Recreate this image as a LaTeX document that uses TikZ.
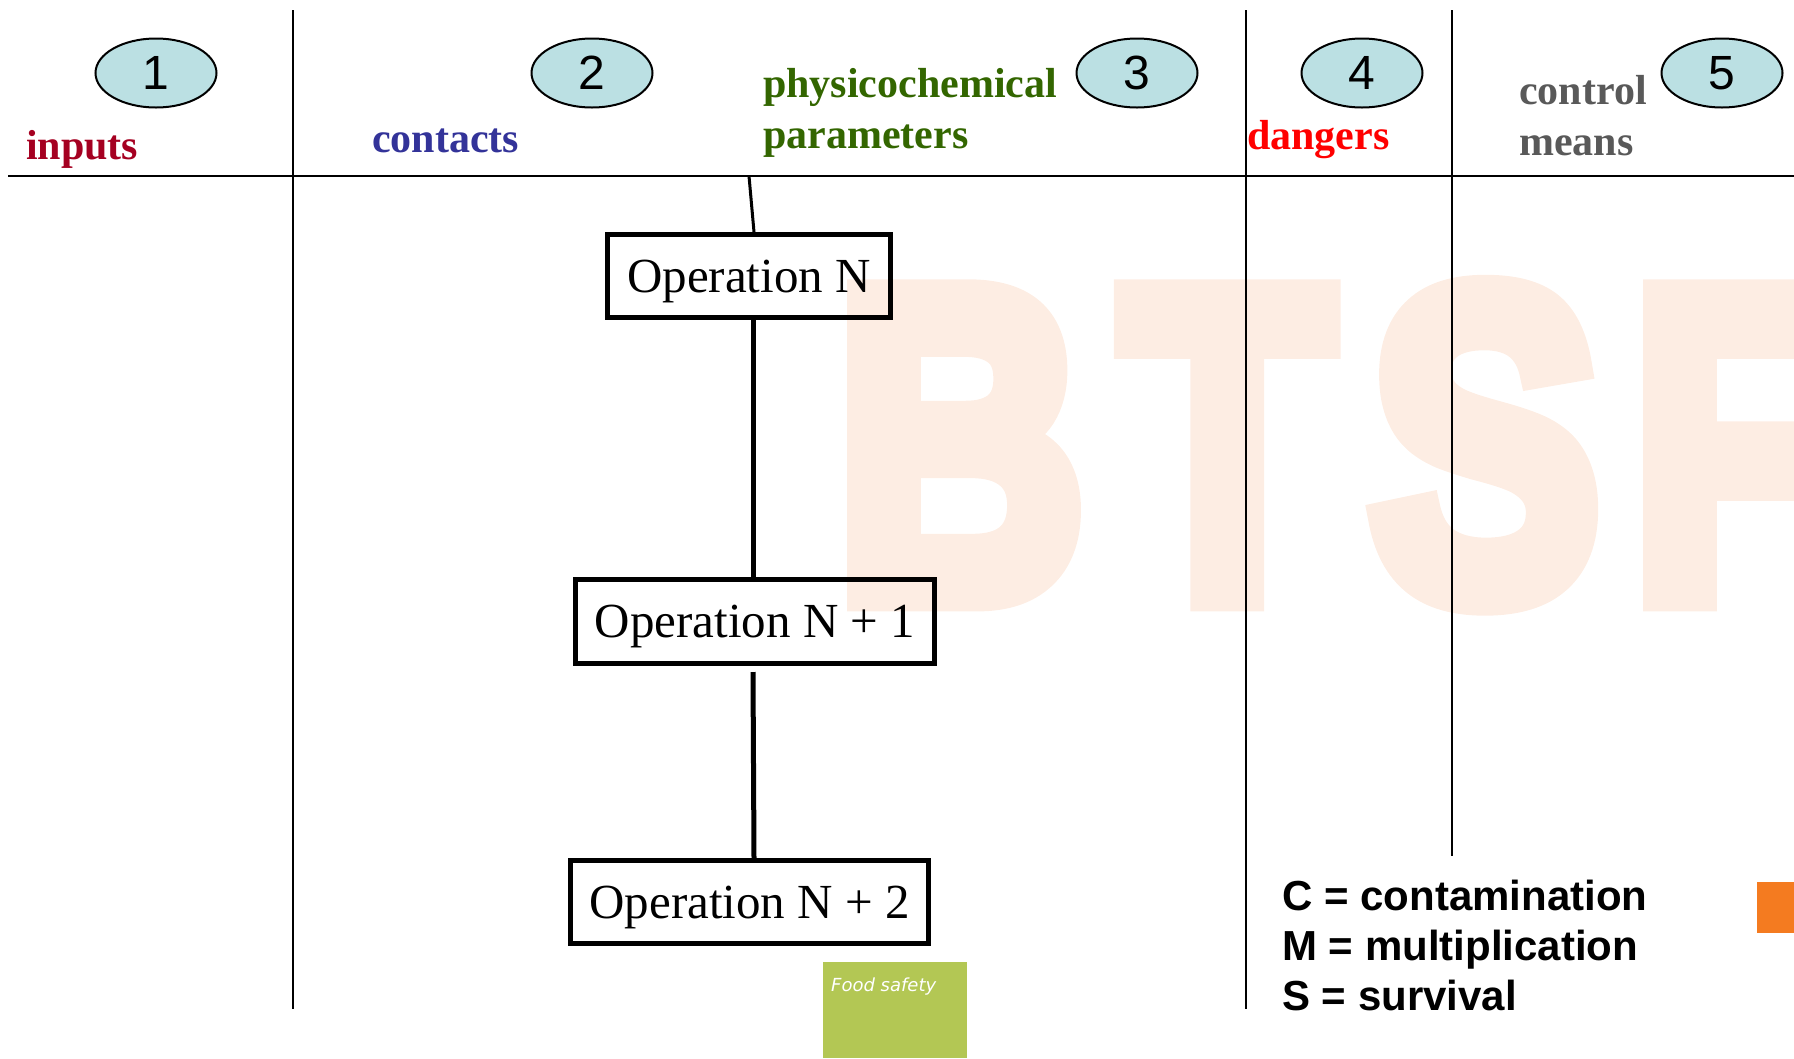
\documentclass[tikz,border=0pt]{standalone}
\usepackage{fontspec}
\usepackage{graphicx}
\usetikzlibrary{shapes.geometric}
\setmainfont{Liberation Serif}
\newfontfamily\arialf{Liberation Sans}
\newfontfamily\verdf{DejaVu Sans}
\newfontfamily\wmfont{Liberation Sans Bold}[FakeBold=7]

\definecolor{inred}{HTML}{A50021}
\definecolor{conblue}{HTML}{333399}
\definecolor{phgreen}{HTML}{336600}
\definecolor{dgred}{HTML}{FF0000}
\definecolor{ctgray}{HTML}{595959}
\definecolor{ovalfill}{HTML}{BBE0E3}
\definecolor{fsgreen}{HTML}{B3C754}
\definecolor{tabor}{HTML}{F47B20}
\definecolor{wmpeach}{HTML}{FDEDE3}

\tikzset{
  oval/.style={ellipse, draw=black, line width=2pt, fill=ovalfill,
    minimum width=121pt, minimum height=69pt, inner sep=0pt,
    font=\arialf\fontsize{48}{48}\selectfont},
  head/.style={anchor=base west, inner sep=0pt,
    font=\bfseries\fontsize{42}{42}\selectfont},
  opbox/.style={draw=black, line width=5pt, inner sep=0pt,
    text height=33pt, text depth=0pt, font=\fontsize{49}{49}\selectfont},
  grid/.style={line width=2pt, black},
  link/.style={line width=5pt, black},
  wm/.style={anchor=base west, inner sep=0pt, text=wmpeach,
    font=\wmfont\fontsize{438}{438}\selectfont},
  legend/.style={anchor=base west, inner sep=0pt,
    font=\arialf\bfseries\fontsize{42}{42}\selectfont},
}

\begin{document}
\begin{tikzpicture}[x=1pt,y=-1pt]
\useasboundingbox (0,0) rectangle (1794,1058);

% faint logo lettering behind the table
\begin{scope}
  \clip (0,0) rectangle (1794,1058);
  \node[wm] (wmB) at (836,596) {\scalebox{0.785}[1]{B}};
  \node[wm] (wmT) at (1122,596) {\scalebox{0.785}[1]{T}};
  \node[wm] (wmS) at (1370,596) {\scalebox{0.785}[1]{S}};
  \node[wm] (wmF) at (1632,596) {\scalebox{0.785}[1]{F}};
\end{scope}

% table rules
\draw[grid] (8,176) -- (1794,176);
\draw[grid] (293,10) -- (293,1009);
\draw[grid] (1246,10) -- (1246,1009);
\draw[grid] (1452,10) -- (1452,856);

% column numbers
\node[oval] (o1) at (156,73) {1};
\node[oval] (o2) at (592,73) {2};
\node[oval] (o3) at (1137,73) {3};
\node[oval] (o4) at (1362,73) {4};
\node[oval] (o5) at (1722,73) {5};

% column headings
\node[head, text=inred] (inputs) at (26,159) {inputs};
\node[head, text=conblue] (contacts) at (372,152) {contacts};
\node[head, text=phgreen] (physico) at (763,97) {physicochemical};
\node[head, text=phgreen] (params) at (763,148) {parameters};
\node[head, text=dgred] (dangers) at (1247,149) {dangers};
\node[head, text=ctgray] (control) at (1519,104) {control};
\node[head, text=ctgray] (means) at (1519,155) {means};

% process steps
\node[opbox, minimum width=283pt, minimum height=83pt] (opN) at (749,276) {Operation N};
\node[opbox, minimum width=359pt, minimum height=84pt] (opN1) at (755,621) {Operation N + 1};
\node[opbox, minimum width=358pt, minimum height=83pt] (opN2) at (749.5,902) {Operation N + 2};

\coordinate (feed) at (749,176);
\draw[line width=3pt] (feed) -- ([xshift=5pt]opN.north);
\draw[link] ([xshift=4pt]opN.south) -- ([xshift=-2pt]opN1.north);
\draw[link] ([xshift=-2pt,yshift=-6.5pt]opN1.south) -- ([xshift=4.5pt]opN2.north);

% footer tag
\node[fill=fsgreen, anchor=north west, minimum width=144pt, minimum height=96pt,
      inner sep=0pt] (fsbox) at (823,962) {};
\node[anchor=base west, inner sep=0pt, text=white,
      font=\verdf\itshape\fontsize{18}{18}\selectfont] (fstext) at (831,991) {Food safety};
\node[fill=tabor, anchor=north west, minimum width=37pt, minimum height=51pt,
      inner sep=0pt] (tab) at (1757,882) {};

% legend
\node[legend] (lc) at (1282,910) {C = contamination};
\node[legend] (lm) at (1282,960) {M = multiplication};
\node[legend] (ls) at (1282,1010) {S = survival};
\end{tikzpicture}
\end{document}
